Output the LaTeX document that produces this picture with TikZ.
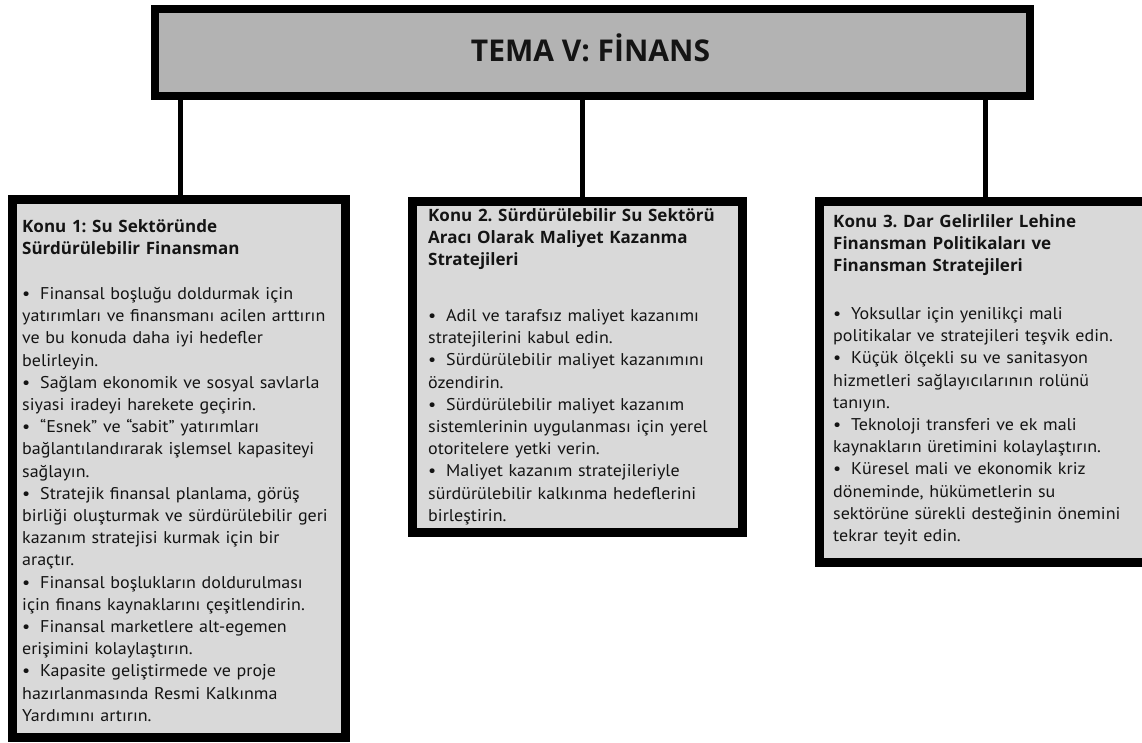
\documentclass[tikz,border=0pt]{standalone}
\usepackage{fontspec}
\setmainfont{PT Sans}
\newfontfamily\bodyf{PT Sans}[FakeStretch=1.06]
\newfontfamily\headf{Open Sans}
\definecolor{topfill}{HTML}{B3B3B3}
\definecolor{boxfill}{HTML}{D9D9D9}
\definecolor{ink}{HTML}{141414}
\begin{document}
\frenchspacing
\begin{tikzpicture}[x=1pt,y=-1pt,
  framebox/.style={draw=black, line width=9pt, fill=boxfill, inner sep=0pt, outer sep=0pt, anchor=north west},
  topbox/.style={draw=black, line width=8pt, fill=topfill, inner sep=0pt, outer sep=0pt, anchor=north west},
  link/.style={draw=black, line width=5pt},
  headtxt/.style={anchor=base west, inner sep=0pt, align=left, text=ink, text width=400pt,
    font=\headf\fontsize{17}{22.3}\selectfont\bfseries\frenchspacing},
  bodytxt/.style={anchor=base west, inner sep=0pt, align=left, text=ink, text width=400pt,
    font=\bodyf\fontsize{17}{22.2}\selectfont\frenchspacing}
]
\newcommand{\bul}{\makebox[18pt][l]{•}}
\clip (0,0) rectangle (1142,742);
\useasboundingbox (0,0) rectangle (1142,742);
\fill[white] (0,0) rectangle (1142,742);

\coordinate (k1) at (180,0);
\coordinate (k2) at (582,0);
\coordinate (k3) at (985,0);

% top box
\node[topbox, minimum width=874.5pt, minimum height=87pt] (top) at (155,9) {};

% boxes
\node[framebox, minimum width=333pt, minimum height=538pt] (b1) at (12.5,199.5) {};
\node[framebox, minimum width=330pt, minimum height=331pt] (b2) at (412.5,201.5) {};
\node[framebox, minimum width=330pt, minimum height=361pt] (b3) at (819.5,201.5) {};

% connectors
\draw[link] (top.south -| k1) -- (b1.north -| k1);
\draw[link] (top.south -| k2) -- (b2.north -| k2);
\draw[link] (top.south -| k3) -- (b3.north -| k3);

\node[anchor=base, inner sep=0pt, text=ink, font=\headf\fontsize{30}{36}\selectfont\bfseries] (title) at (590.5,61.7) {TEMA V: FİNANS};

% texts box 1
\node[headtxt] (h1) at (22,232) {Konu 1: Su Sektöründe\\Sürdürülebilir Finansman};
\node[bodytxt] (t1) at (22,299.5) {\bul Finansal boşluğu doldurmak için\\
yatırımları ve finansmanı acilen arttırın\\
ve bu konuda daha iyi hedefler\\
belirleyin.\\
\bul Sağlam ekonomik ve sosyal savlarla\\
siyasi iradeyi harekete geçirin.\\
\bul “Esnek” ve “sabit” yatırımları\\
bağlantılandırarak işlemsel kapasiteyi\\
sağlayın.\\
\bul Stratejik finansal planlama, görüş\\
birliği oluşturmak ve sürdürülebilir geri\\
kazanım stratejisi kurmak için bir\\
araçtır.\\
\bul Finansal boşlukların doldurulması\\
için finans kaynaklarını çeşitlendirin.\\
\bul Finansal marketlere alt-egemen\\
erişimini kolaylaştırın.\\
\bul Kapasite geliştirmede ve proje\\
hazırlanmasında Resmi Kalkınma\\
Yardımını artırın.};

% texts box 2
\node[headtxt] (h2) at (428,221) {Konu 2. Sürdürülebilir Su Sektörü\\Aracı Olarak Maliyet Kazanma\\Stratejileri};
\node[bodytxt] (t2) at (428,321.5) {\bul Adil ve tarafsız maliyet kazanımı\\
stratejilerini kabul edin.\\
\bul Sürdürülebilir maliyet kazanımını\\
özendirin.\\
\bul Sürdürülebilir maliyet kazanım\\
sistemlerinin uygulanması için yerel\\
otoritelere yetki verin.\\
\bul Maliyet kazanım stratejileriyle\\
sürdürülebilir kalkınma hedeflerini\\
birleştirin.};

% texts box 3
\node[headtxt] (h3) at (833,227) {Konu 3. Dar Gelirliler Lehine\\Finansman Politikaları ve\\Finansman Stratejileri};
\node[bodytxt] (t3) at (833,319.5) {\bul Yoksullar için yenilikçi mali\\
politikalar ve stratejileri teşvik edin.\\
\bul Küçük ölçekli su ve sanitasyon\\
hizmetleri sağlayıcılarının rolünü\\
tanıyın.\\
\bul Teknoloji transferi ve ek mali\\
kaynakların üretimini kolaylaştırın.\\
\bul Küresel mali ve ekonomik kriz\\
döneminde, hükümetlerin su\\
sektörüne sürekli desteğinin önemini\\
tekrar teyit edin.};
\end{tikzpicture}
\end{document}
